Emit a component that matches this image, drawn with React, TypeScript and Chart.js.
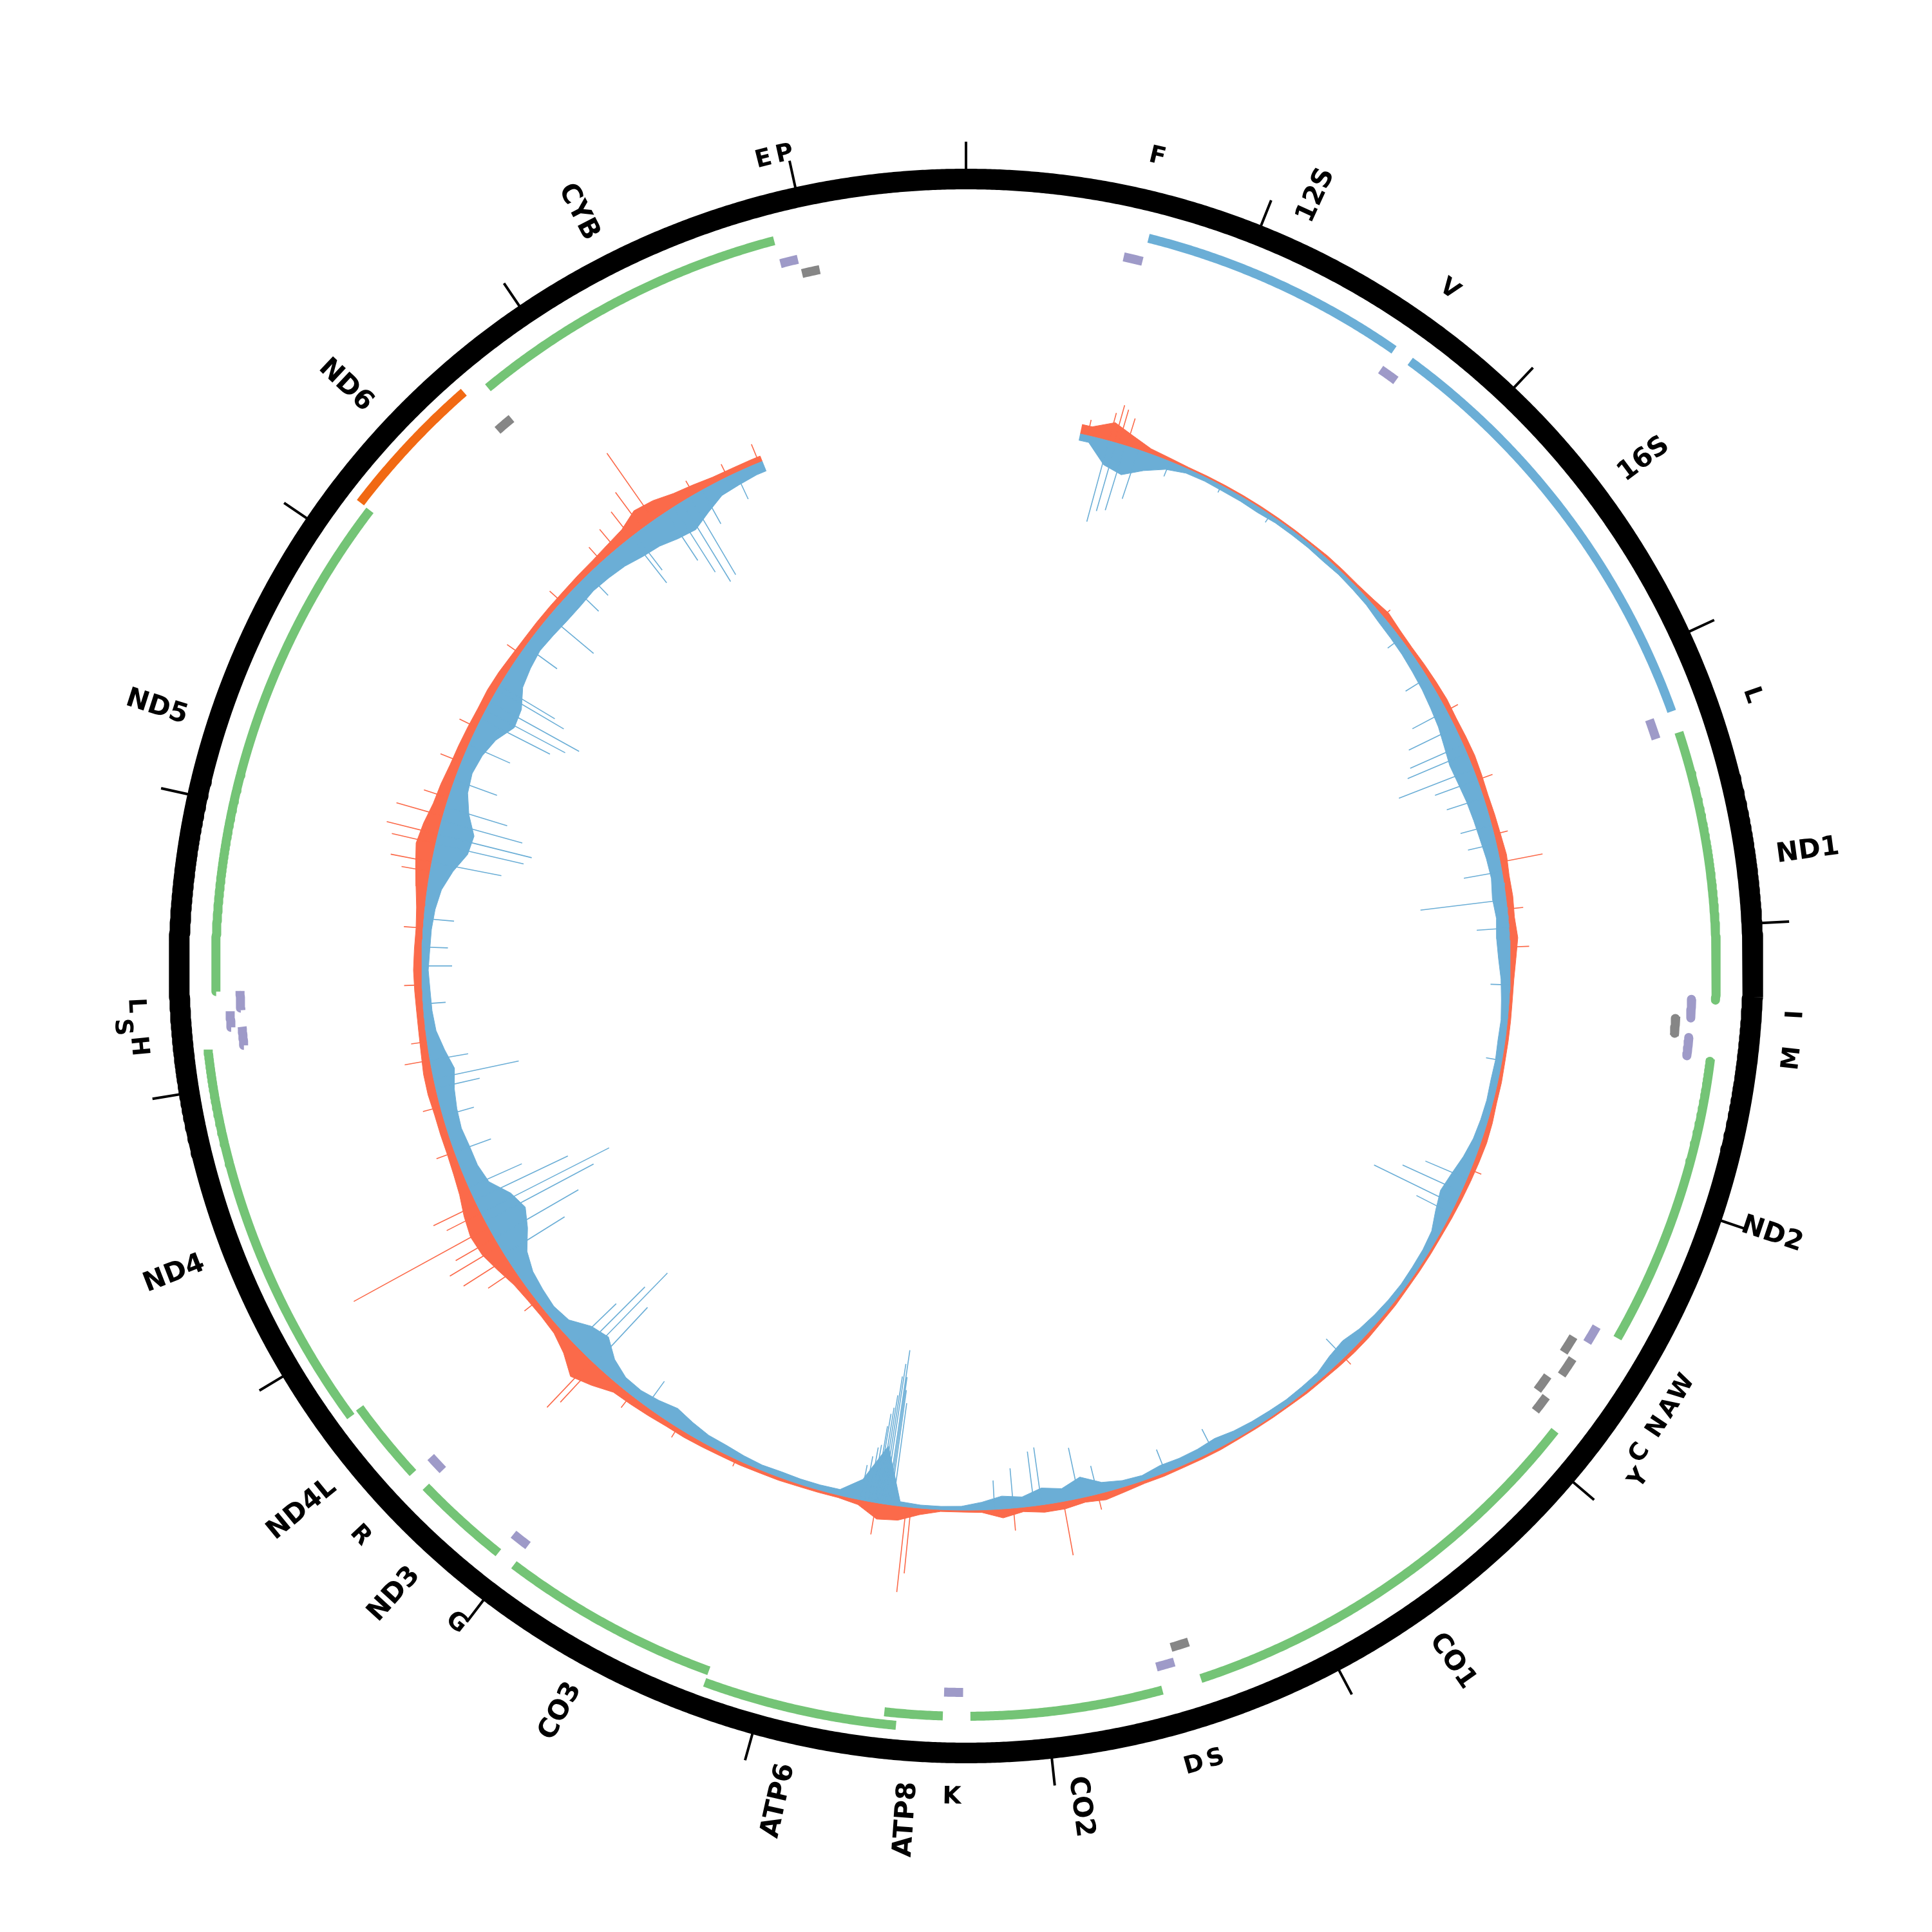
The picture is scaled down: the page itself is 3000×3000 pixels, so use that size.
import React, { useEffect, useRef } from "react";
import { Chart, registerables } from "chart.js";

Chart.register(...registerables);

// ---------------- data ----------------
const GENOME_LENGTH = 16569;
const TICK_POSITIONS = [0, 1000, 2000, 3000, 4000, 5000, 6000, 7000, 8000, 9000, 10000, 11000, 12000, 13000, 14000, 15000, 16000];

const GENE_NAMES = ["12S", "16S", "ND1", "ND2", "CO1", "CO2", "ATP8", "ATP6", "CO3", "ND3", "ND4L", "ND4", "ND5", "ND6", "CYB"];
const GENE_STARTS = [648, 1671, 3307, 4470, 5904, 7586, 8366, 8527, 9207, 10059, 10470, 10760, 12337, 14149, 14747];
const GENE_ENDS = [1601, 3229, 4262, 5511, 7445, 8269, 8572, 9207, 9990, 10404, 10766, 12137, 14148, 14673, 15887];
const GENE_KINDS = ["rRNA", "rRNA", "CDS", "CDS", "CDS", "CDS", "CDS", "CDS", "CDS", "CDS", "CDS", "CDS", "CDS", "CDS-L", "CDS"];

const TRNA_LABELS = ["F", "V", "L", "I", "", "M", "W", "A", "N", "C", "Y", "S", "D", "K", "G", "R", "H", "S", "L", "", "E", "P"];
const TRNA_STARTS = [577, 1602, 3230, 4263, 4329, 4402, 5512, 5587, 5657, 5761, 5826, 7446, 7518, 8295, 9991, 10405, 12138, 12207, 12266, 14674, 15888, 15956];
const TRNA_ENDS = [647, 1670, 3304, 4331, 4400, 4469, 5579, 5655, 5729, 5826, 5891, 7514, 7585, 8364, 10058, 10469, 12206, 12265, 12336, 14742, 15953, 16023];
const TRNA_STRANDS = ["H", "H", "H", "H", "L", "H", "H", "L", "L", "L", "L", "L", "H", "H", "H", "H", "H", "H", "H", "L", "H", "L"];

// coverage, 100 bp bins starting at 557
const COVERAGE_START = 557;
const COVERAGE_BIN = 100;
const FORWARD_DEPTH = [
  15, 30, 18, 8, 5, 3, 3, 3, 3, 3,
  3, 3, 3, 4, 4, 4, 6, 10, 7, 6,
  7, 8, 9, 8, 9, 10, 9, 8, 9, 10,
  12, 10, 11, 10, 13, 9, 6, 5, 5, 5,
  5, 6, 6, 8, 9, 8, 7, 6, 5, 4,
  4, 4, 4, 5, 5, 6, 6, 5, 4, 4,
  3, 3, 3, 3, 4, 4, 4, 5, 5, 8,
  12, 8, 12, 12, 7, 14, 4, 3, 3, 10,
  22, 25, 8, 4, 4, 4, 5, 5, 6, 6,
  7, 8, 8, 10, 12, 14, 28, 40, 22, 12,
  10, 11, 14, 22, 30, 32, 26, 18, 14, 12,
  12, 12, 14, 14, 12, 11, 11, 12, 13, 12,
  11, 13, 18, 24, 30, 26, 20, 18, 15, 14,
  13, 12, 13, 12, 10, 9, 9, 9, 9, 10,
  11, 14, 18, 30, 26, 18, 14, 10, 9, 9,
];
const REVERSE_DEPTH = [
  10, 38, 45, 28, 14, 7, 6, 7, 7, 8,
  6, 6, 6, 7, 6, 7, 8, 11, 12, 13,
  15, 17, 20, 23, 28, 32, 30, 27, 25, 23,
  20, 18, 21, 18, 20, 18, 14, 12, 10, 11,
  10, 11, 10, 11, 13, 18, 25, 30, 23, 13,
  10, 9, 8, 9, 11, 14, 20, 17, 10, 9,
  8, 9, 10, 12, 16, 13, 12, 13, 8, 10,
  16, 32, 20, 26, 16, 20, 12, 6, 5, 5,
  7, 90, 32, 9, 8, 8, 9, 8, 10, 13,
  14, 19, 25, 19, 15, 16, 26, 45, 38, 19,
  15, 18, 22, 32, 52, 65, 55, 32, 26, 25,
  22, 24, 28, 35, 25, 16, 13, 12, 10, 12,
  13, 16, 22, 35, 52, 55, 38, 26, 22, 26,
  35, 52, 48, 32, 26, 22, 24, 26, 26, 24,
  26, 29, 35, 38, 45, 48, 35, 22, 19, 16,
];
const FORWARD_PEAK_POSITIONS = [594, 700, 727, 750, 790, 2301, 2854, 3222, 3498, 3636, 3866, 4050, 5155, 6259, 7640, 7810, 8054, 8552, 8575, 8722, 9435, 9757, 10033, 10260, 10287, 10678, 10862, 10931, 11000, 11046, 11105, 11184, 11230, 11506, 11736, 11967, 12059, 12335, 12611, 12887, 12933, 13025, 13071, 13163, 13255, 13439, 13623, 14038, 14360, 14636, 14728, 14820, 14889, 14958, 15188, 15372, 15540];
const FORWARD_PEAK_DEPTHS = [25, 45, 60, 55, 45, 15, 20, 25, 22, 67, 25, 30, 18, 15, 25, 85, 35, 103, 133, 50, 12, 18, 25, 80, 100, 25, 50, 80, 90, 70, 239, 60, 75, 30, 28, 40, 25, 28, 30, 45, 65, 70, 82, 75, 40, 35, 30, 25, 25, 30, 40, 50, 70, 127, 25, 22, 31];
const REVERSE_PEAK_POSITIONS = [700, 736, 782, 851, 1013, 1289, 1565, 2439, 2669, 2854, 2946, 3038, 3084, 3167, 3222, 3314, 3452, 3544, 3682, 3820, 3958, 4234, 4603, 5201, 5270, 5339, 5385, 6259, 7042, 7295, 7640, 7732, 7916, 7953, 8054, 8146, 8640, 8653, 8660, 8667, 8680, 8690, 8700, 8710, 8722, 8730, 8745, 8760, 8780, 8800, 9941, 10264, 10319, 10356, 10402, 10954, 11046, 11138, 11184, 11253, 11322, 11506, 11690, 11829, 11875, 11967, 12243, 12427, 12519, 12657, 12933, 13025, 13071, 13140, 13209, 13347, 13531, 13669, 13716, 13762, 13831, 13854, 14084, 14268, 14452, 14544, 14820, 14843, 15028, 15074, 15120, 15166, 15234, 15418];
const REVERSE_PEAK_DEPTHS = [130, 110, 105, 80, 25, 12, 14, 25, 40, 60, 80, 90, 100, 124, 70, 60, 50, 45, 60, 134, 50, 30, 25, 70, 100, 140, 60, 40, 38, 38, 45, 80, 90, 85, 62, 45, 160, 180, 200, 242, 220, 200, 170, 150, 140, 120, 90, 85, 70, 55, 48, 120, 180, 140, 90, 110, 150, 190, 223, 160, 90, 60, 50, 70, 135, 60, 35, 47, 40, 47, 110, 140, 150, 130, 100, 70, 70, 120, 140, 158, 120, 100, 60, 90, 52, 45, 90, 70, 90, 120, 145, 140, 60, 45];

// ---------------- layout / style ----------------
const HALF = 1500;
const RING_R = 1222;
const RING_W = 32;
const TICK_R0 = 1222;
const TICK_R1 = 1280;
const GENE_LANE_R = [1165, 1184];
const TRNA_H_LANE_R = [1128, 1145];
const TRNA_L_LANE_R = [1105, 1122];
const ARC_W = 14;
const BASE_R = 845;
const DEPTH_PX = 1;
const GENE_LABEL_R = 1270;
const TRNA_LABEL_LEVEL_R = [1291, 1314];
const LABEL_MIN_SEP_BP = 67;

const COLORS = {
  CDS: "#74c476",
  rRNA: "#6baed6",
  "CDS-L": "#f16913",
  tH: "#9e9ac8",
  tL: "#868686",
  fwd: "#fb6a4a",
  rev: "#6baed6",
};

const GAP = { x: NaN, y: NaN };

function polar(bp: number, r: number) {
  const a = (bp / GENOME_LENGTH) * 2 * Math.PI;
  return { x: r * Math.sin(a), y: r * Math.cos(a) };
}

function arc(start: number, end: number, r: number) {
  const pts: { x: number; y: number }[] = [];
  const n = Math.max(2, Math.ceil((end - start) / 8));
  for (let k = 0; k <= n; k++) pts.push(polar(start + ((end - start) * k) / n, r));
  return pts;
}

function assignLanes(idx: number[], starts: number[], ends: number[]) {
  const order = [...idx].sort((a, b) => starts[a] - starts[b]);
  const lanes: Record<number, number> = {};
  let prevEnd = -Infinity;
  let prevLane = 0;
  for (const i of order) {
    const lane = starts[i] - prevEnd <= 2 ? 1 - prevLane : 0;
    lanes[i] = lane;
    prevEnd = ends[i];
    prevLane = lane;
  }
  return lanes;
}

// label levels: push a label outward when it sits too close to the previous one
function labelLevels() {
  const idx = TRNA_LABELS.map((l, i) => (l ? i : -1)).filter((i) => i >= 0);
  const mid = (i: number) => (TRNA_STARTS[i] + TRNA_ENDS[i]) / 2;
  idx.sort((a, b) => mid(a) - mid(b));
  const levels: Record<number, number> = {};
  let prevMid = -Infinity;
  let prevLevel = 1;
  for (const i of idx) {
    const level = mid(i) - prevMid < LABEL_MIN_SEP_BP && prevLevel === 0 ? 1 : 0;
    levels[i] = level;
    prevMid = mid(i);
    prevLevel = level;
  }
  return levels;
}

function coveragePolygon(values: number[], sign: number) {
  const pts: { x: number; y: number }[] = [];
  const end = COVERAGE_START + values.length * COVERAGE_BIN;
  for (let bp = COVERAGE_START; bp <= end; bp += 20) pts.push(polar(bp, BASE_R));
  pts.push(polar(end, BASE_R + sign * values[values.length - 1] * DEPTH_PX));
  for (let i = values.length - 1; i >= 0; i--) {
    pts.push(polar(COVERAGE_START + (i + 0.5) * COVERAGE_BIN, BASE_R + sign * values[i] * DEPTH_PX));
  }
  pts.push(polar(COVERAGE_START, BASE_R + sign * values[0] * DEPTH_PX));
  return pts;
}

function peakSegments(positions: number[], depths: number[], sign: number) {
  const pts: { x: number; y: number }[] = [];
  positions.forEach((p, i) => {
    pts.push(polar(p, BASE_R));
    pts.push(polar(p, BASE_R + sign * depths[i] * DEPTH_PX));
    pts.push(GAP);
  });
  return pts;
}

function lineDs(label: string, data: any[], color: string, width: number, order: number, extra: any = {}) {
  return {
    label,
    data,
    showLine: true,
    borderColor: color,
    backgroundColor: color,
    borderWidth: width,
    pointRadius: 0,
    pointHoverRadius: 0,
    pointHitRadius: 0,
    borderCapStyle: "butt",
    borderJoinStyle: "round",
    fill: false,
    spanGaps: false,
    order,
    ...extra,
  };
}

const hIdxAll = TRNA_STRANDS.map((s, i) => (s === "H" ? i : -1)).filter((i) => i >= 0);
const lIdxAll = TRNA_STRANDS.map((s, i) => (s === "L" ? i : -1)).filter((i) => i >= 0);
const TRNA_LANES: Record<number, number> = {
  ...assignLanes(hIdxAll, TRNA_STARTS, TRNA_ENDS),
  ...assignLanes(lIdxAll, TRNA_STARTS, TRNA_ENDS),
};
const TRNA_LABEL_LEVELS = labelLevels();

const labelsPlugin = {
  id: "genomeLabels",
  afterDatasetsDraw(chart: any) {
    const { ctx } = chart;
    const xs = chart.scales.x;
    const ys = chart.scales.y;
    const put = (bp: number, r: number, text: string, font: string, mode: string) => {
      const p = polar(bp, r);
      const px = xs.getPixelForValue(p.x);
      const py = ys.getPixelForValue(p.y);
      const deg = (bp / GENOME_LENGTH) * 360;
      ctx.save();
      ctx.translate(px, py);
      ctx.font = font;
      ctx.fillStyle = "#000";
      ctx.textBaseline = "middle";
      if (mode === "radial") {
        if (deg < 180) {
          ctx.rotate(((deg - 90) * Math.PI) / 180);
          ctx.textAlign = "left";
        } else {
          ctx.rotate(((deg - 270) * Math.PI) / 180);
          ctx.textAlign = "right";
        }
      } else {
        const rot = deg < 90 || deg > 270 ? deg : deg - 180;
        ctx.rotate((rot * Math.PI) / 180);
        ctx.textAlign = "center";
      }
      ctx.fillText(text, 0, 0);
      ctx.restore();
    };
    GENE_NAMES.forEach((name, i) => {
      put((GENE_STARTS[i] + GENE_ENDS[i]) / 2, GENE_LABEL_R, name, 'bold 41.7px "DejaVu Sans"', "radial");
    });
    TRNA_LABELS.forEach((name, i) => {
      if (!name) return;
      put((TRNA_STARTS[i] + TRNA_ENDS[i]) / 2, TRNA_LABEL_LEVEL_R[TRNA_LABEL_LEVELS[i]], name, 'bold 37.5px "DejaVu Sans"', "tangential");
    });
  },
};

function buildDatasets() {
  const ring = arc(0, GENOME_LENGTH + 40, RING_R);
  const ticks: any[] = [];
  TICK_POSITIONS.forEach((t) => {
    ticks.push(polar(t, TICK_R0), polar(t, TICK_R1), GAP);
  });
  const geneIdx = GENE_NAMES.map((_, i) => i);
  const geneLanes = assignLanes(geneIdx, GENE_STARTS, GENE_ENDS);
  const geneGroups: Record<string, any[]> = { CDS: [], rRNA: [], "CDS-L": [] };
  geneIdx.forEach((i) => {
    geneGroups[GENE_KINDS[i]].push(...arc(GENE_STARTS[i], GENE_ENDS[i], GENE_LANE_R[geneLanes[i]]), GAP);
  });
  const tH: any[] = [];
  const tL: any[] = [];
  hIdxAll.forEach((i) => tH.push(...arc(TRNA_STARTS[i], TRNA_ENDS[i], TRNA_H_LANE_R[TRNA_LANES[i]]), GAP));
  lIdxAll.forEach((i) => tL.push(...arc(TRNA_STARTS[i], TRNA_ENDS[i], TRNA_L_LANE_R[TRNA_LANES[i]]), GAP));

  return [
    lineDs("ring", ring, "#000000", RING_W, 1),
    lineDs("ticks", ticks, "#000000", 4, 2),
    lineDs("protein-coding", geneGroups.CDS, COLORS.CDS, ARC_W, 3),
    lineDs("rRNA", geneGroups.rRNA, COLORS.rRNA, ARC_W, 3),
    lineDs("protein-coding (L)", geneGroups["CDS-L"], COLORS["CDS-L"], ARC_W, 3),
    lineDs("tRNA (H)", tH, COLORS.tH, ARC_W, 3),
    lineDs("tRNA (L)", tL, COLORS.tL, ARC_W, 3),
    lineDs("reverse peaks", peakSegments(REVERSE_PEAK_POSITIONS, REVERSE_PEAK_DEPTHS, -1), COLORS.rev, 1.6, 4),
    lineDs("reverse depth", coveragePolygon(REVERSE_DEPTH, -1), COLORS.rev, 1, 5, { fill: "shape" }),
    lineDs("forward peaks", peakSegments(FORWARD_PEAK_POSITIONS, FORWARD_PEAK_DEPTHS, 1), COLORS.fwd, 1.6, 6),
    lineDs("forward depth", coveragePolygon(FORWARD_DEPTH, 1), COLORS.fwd, 1, 7, { fill: "shape" }),
  ];
}

export default function App() {
  const canvasRef = useRef<HTMLCanvasElement | null>(null);

  useEffect(() => {
    document.body.style.margin = "0";
    const canvas = canvasRef.current;
    if (!canvas) return;
    const chart = new Chart(canvas, {
      type: "scatter",
      data: { datasets: buildDatasets() as any },
      options: {
        responsive: false,
        maintainAspectRatio: false,
        animation: false,
        devicePixelRatio: 1,
        events: [],
        layout: { padding: 0 },
        plugins: { legend: { display: false }, tooltip: { enabled: false } },
        scales: {
          x: { type: "linear", min: -HALF, max: HALF, display: false },
          y: { type: "linear", min: -HALF, max: HALF, display: false },
        },
      } as any,
      plugins: [labelsPlugin],
    });
    return () => chart.destroy();
  }, []);

  return (
    <div style={{ width: 3000, height: 3000, background: "#ffffff" }}>
      <canvas ref={canvasRef} width={3000} height={3000} style={{ display: "block" }} />
    </div>
  );
}
